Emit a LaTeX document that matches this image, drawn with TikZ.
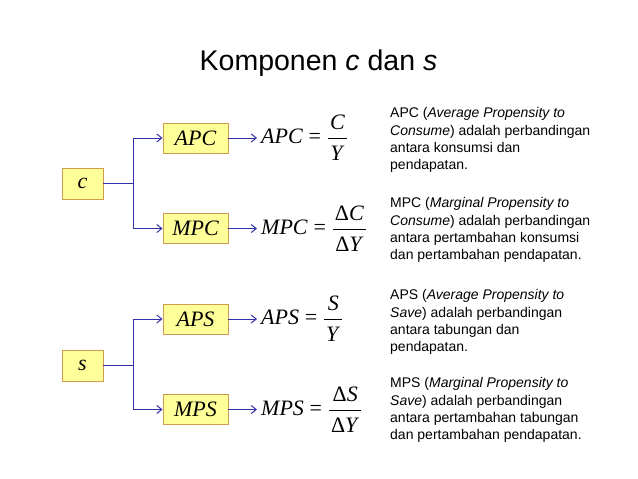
\documentclass[tikz,border=0pt]{standalone}
\usepackage{fontspec}
\usepackage{amsmath}
\setmainfont{Liberation Serif}
\newfontfamily\arialf{Liberation Sans}
\usetikzlibrary{arrows.meta}
\definecolor{boxfill}{HTML}{FFFF99}
\definecolor{boxline}{HTML}{D09A50}
\definecolor{linkblue}{HTML}{3030A8}
\tikzset{
  varbox/.style={draw=boxline, fill=boxfill, line width=0.9pt, inner sep=0pt, minimum height=30pt, font=\fontsize{22}{26}\selectfont\itshape},
  link/.style={draw=linkblue, line width=1pt},
  linkarrow/.style={link, -{Straight Barb[length=5pt,width=8pt,line width=1pt]}},
  formula/.style={anchor=west, inner sep=0pt, font=\fontsize{22}{26}\selectfont},
  desc/.style={anchor=north west, inner sep=0pt, align=left, font=\arialf\fontsize{14}{17.3}\selectfont},
}
\newcommand{\vi}[1]{\mbox{\textit{#1}}}
\newcommand{\Dl}{\mbox{\upshape Δ}}
\newcommand{\numr}[1]{\kern2pt#1\kern2pt\rule[-3pt]{0pt}{3pt}}
\newcommand{\denr}[1]{\kern2pt#1\kern2pt\rule{0pt}{19pt}}
\newcommand{\eqs}{\mathrel{\mbox{=}}}
\begin{document}
\begin{tikzpicture}[x=1pt,y=-1pt]
\useasboundingbox (0,0) rectangle (638,479);
\node[anchor=base, font=\arialf\fontsize{28.5}{32}\selectfont] (title) at (318.5,70) {Komponen \textit{c} dan \textit{s}};

% c branch
\node[varbox, minimum width=41pt, minimum height=31pt] (c) at (82.5,183.5) {c};
\node[varbox, minimum width=65pt] (apc) at (195.5,138) {APC};
\node[varbox, minimum width=65pt] (mpc) at (195.5,228.5) {MPC};
\coordinate (jc) at (133,183.5);
\draw[link] (c.east) -- (jc);
\draw[linkarrow] (jc) |- (apc.west);
\draw[linkarrow] (jc) |- (mpc.west);
\node[formula] (fapc) at (261,138) {$\vi{APC}\eqs\dfrac{\numr{\vi{C}}}{\denr{\vi{Y}}}$};
\node[formula] (fmpc) at (261,228.5) {$\vi{MPC}\eqs\dfrac{\numr{\Dl\vi{C}}}{\denr{\Dl\vi{Y}}}$};
\draw[linkarrow, shorten >=4pt] (apc.east) -- (fapc.west);
\draw[linkarrow, shorten >=4pt] (mpc.east) -- (fmpc.west);

% s branch
\node[varbox, minimum width=41pt, minimum height=31pt] (s) at (82.5,365.5) {s};
\node[varbox, minimum width=65pt] (aps) at (195.5,319) {APS};
\node[varbox, minimum width=65pt] (mps) at (195.5,409.5) {MPS};
\coordinate (js) at (133,365.5);
\draw[link] (s.east) -- (js);
\draw[linkarrow] (js) |- (aps.west);
\draw[linkarrow] (js) |- (mps.west);
\node[formula] (faps) at (261,319) {$\vi{APS}\eqs\dfrac{\numr{\vi{S}}}{\denr{\vi{Y}}}$};
\node[formula] (fmps) at (261,409.5) {$\vi{MPS}\eqs\dfrac{\numr{\Dl\vi{S}}}{\denr{\Dl\vi{Y}}}$};
\draw[linkarrow, shorten >=4pt] (aps.east) -- (faps.west);
\draw[linkarrow, shorten >=4pt] (mps.east) -- (fmps.west);

% descriptions
\node[desc] (dapc) at (390,107.5) {APC (\textit{Average Propensity to}\\\textit{Consume}) adalah perbandingan\\antara konsumsi dan\\pendapatan.};
\node[desc] (dmpc) at (390,197.5) {MPC (\textit{Marginal Propensity to}\\\textit{Consume}) adalah perbandingan\\antara pertambahan konsumsi\\dan pertambahan pendapatan.};
\node[desc] (daps) at (390,289.5) {APS (\textit{Average Propensity to}\\\textit{Save}) adalah perbandingan\\antara tabungan dan\\pendapatan.};
\node[desc] (dmps) at (390,377.5) {MPS (\textit{Marginal Propensity to}\\\textit{Save}) adalah perbandingan\\antara pertambahan tabungan\\dan pertambahan pendapatan.};
\end{tikzpicture}
\end{document}
